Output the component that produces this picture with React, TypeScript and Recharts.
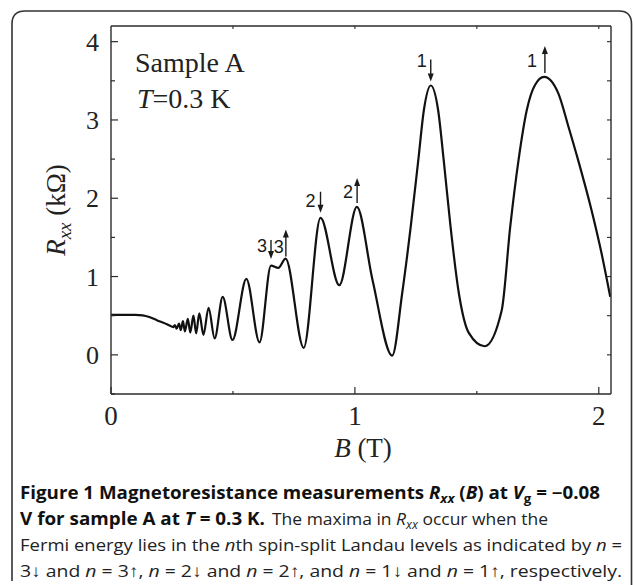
import React from 'react';
import { LineChart, Line, XAxis, YAxis, ReferenceDot } from 'recharts';

// Magnetic field B (T)
const bField = [
  0, 0.05, 0.1, 0.13, 0.16, 0.19, 0.215, 0.24, 0.255, 0.262, 0.269, 0.279, 0.286,
  0.295, 0.303, 0.315, 0.325, 0.338, 0.349, 0.362, 0.379, 0.4, 0.425, 0.458, 0.498,
  0.555, 0.609, 0.656, 0.686, 0.716, 0.79, 0.859, 0.936, 1.008, 1.072, 1.153, 1.194,
  1.229, 1.26, 1.283, 1.311, 1.341, 1.364, 1.392, 1.426, 1.467, 1.532, 1.602, 1.637,
  1.671, 1.705, 1.739, 1.776, 1.834, 1.875, 1.915, 1.97, 2.011, 2.047,
];
// Longitudinal resistance Rxx (kOhm)
const rxx = [
  0.51, 0.51, 0.51, 0.505, 0.48, 0.44, 0.41, 0.375, 0.355, 0.38, 0.335, 0.4, 0.315,
  0.43, 0.3, 0.46, 0.285, 0.5, 0.275, 0.53, 0.255, 0.6, 0.21, 0.74, 0.19,
  0.97, 0.16, 1.14, 1.11, 1.23, 0.09, 1.75, 0.89, 1.89, 0.96, -0.01, 0.79,
  1.64, 2.49, 3.13, 3.44, 3.13, 2.49, 1.64, 0.79, 0.28, 0.11, 0.57, 1.64,
  2.49, 3.13, 3.45, 3.55, 3.34, 2.92, 2.49, 1.85, 1.3, 0.74,
];

const xTicksBottom = [0, 0.5, 1, 1.5, 2];
const xTicksTop = [0.5, 1, 1.5, 2];
const yTicksLeft = [-0.5, 0, 0.5, 1, 1.5, 2, 2.5, 3, 3.5, 4];
const yTicksRight = [0, 0.5, 1, 1.5, 2, 2.5, 3, 3.5, 4];

// Landau level annotations: anchor point (B, Rxx) of arrow, level, spin direction
const annB = [0.656, 0.717, 0.859, 1.009, 1.311, 1.779];
const annR = [1.225, 1.255, 1.815, 1.94, 3.49, 3.6];
const annLevel = ['3', '3', '2', '2', '1', '1'];
const annDir = ['down', 'up', 'down', 'up', 'down', 'up'];

const data = bField.map((b, i) => ({ b, r: rxx[i] }));

const FRAME = '#2b2b2b';
const SERIF = '"Liberation Serif", "Times New Roman", serif';
const SANS = '"Liberation Sans", Arial, sans-serif';
const CAP = '"Open Sans", "Noto Sans", sans-serif';

// label placement (pixels) for each annotation
const annStyle = [
  { dx: -9, dy: -7, len: 19 },
  { dx: -7, dy: -4, len: 27 },
  { dx: -10, dy: -6, len: 21 },
  { dx: -9, dy: -5, len: 25 },
  { dx: -9, dy: -15, len: 22 },
  { dx: -13, dy: -6, len: 27 },
];

const BottomTick = (props: any) => {
  const { x, y, payload } = props;
  const v = payload.value;
  const major = Number.isInteger(v);
  return (
    <g>
      <line x1={x} x2={x} y1={y} y2={y - (major ? 7 : 3)} stroke={FRAME} strokeWidth={1.2} />
      {major && (
        <text x={x} y={y + 31} textAnchor="middle" fontFamily={SERIF} fontSize={27} fill="#222">
          {v}
        </text>
      )}
    </g>
  );
};

const TopTick = (props: any) => {
  const { x, y } = props;
  return <line x1={x} x2={x} y1={y} y2={y + 3} stroke={FRAME} strokeWidth={1.1} />;
};

const LeftTick = (props: any) => {
  const { x, y, payload } = props;
  const v = payload.value;
  const major = Number.isInteger(v);
  return (
    <g>
      <line x1={x} x2={x + (major ? 7 : 4)} y1={y} y2={y} stroke={FRAME} strokeWidth={1.2} />
      {major && (
        <text x={x - 12} y={y + 9} textAnchor="end" fontFamily={SERIF} fontSize={26} fill="#222">
          {v}
        </text>
      )}
    </g>
  );
};

const RightTick = (props: any) => {
  const { x, y } = props;
  return <line x1={x} x2={x - 4} y1={y} y2={y} stroke={FRAME} strokeWidth={1.1} />;
};

const makeArrow = (i: number) => (p: any) => {
  const { cx, cy } = p;
  const st = annStyle[i];
  const down = annDir[i] === 'down';
  const tipY = down ? cy : cy - st.len;
  const baseY = down ? cy - st.len : cy;
  const head = down
    ? `${cx - 3},${tipY - 8} ${cx + 3},${tipY - 8} ${cx},${tipY}`
    : `${cx - 3},${tipY + 8} ${cx + 3},${tipY + 8} ${cx},${tipY}`;
  return (
    <g>
      <line x1={cx} x2={cx} y1={baseY} y2={down ? tipY - 6 : tipY + 6} stroke="#1a1a1a" strokeWidth={1.4} />
      <polygon points={head} fill="#1a1a1a" />
      <text
        x={cx + st.dx}
        y={cy + st.dy}
        textAnchor="middle"
        fontFamily={SANS}
        fontSize={18}
        fill="#1a1a1a"
      >
        {annLevel[i]}
      </text>
    </g>
  );
};

export default function App() {
  return (
    <div style={{ position: 'absolute', left: 0, top: 0, width: 633, height: 585, background: '#fff' }}>
      <div style={{ position: 'absolute', left: 0, top: 0 }}>
        <LineChart width={633} height={585} data={data} margin={{ top: 25, right: 21, bottom: 190, left: 0 }}>
          <XAxis
            xAxisId="b"
            dataKey="b"
            type="number"
            domain={[0, 2.05]}
            allowDataOverflow
            ticks={xTicksBottom}
            interval={0}
            height={1}
            tickSize={0}
            tickMargin={0}
            tickLine={false}
            tick={BottomTick}
            axisLine={{ stroke: FRAME, strokeWidth: 1.4 }}
          />
          <XAxis
            xAxisId="t"
            orientation="top"
            dataKey="b"
            type="number"
            domain={[0, 2.05]}
            allowDataOverflow
            ticks={xTicksTop}
            interval={0}
            height={1}
            tickSize={0}
            tickMargin={0}
            tickLine={false}
            tick={TopTick}
            axisLine={{ stroke: FRAME, strokeWidth: 1.4 }}
          />
          <YAxis
            yAxisId="l"
            type="number"
            domain={[-0.5, 4.2]}
            allowDataOverflow
            ticks={yTicksLeft}
            interval={0}
            width={111}
            tickSize={0}
            tickMargin={0}
            tickLine={false}
            tick={LeftTick}
            axisLine={{ stroke: FRAME, strokeWidth: 1.4 }}
          />
          <YAxis
            yAxisId="r"
            orientation="right"
            type="number"
            domain={[-0.5, 4.2]}
            allowDataOverflow
            ticks={yTicksRight}
            interval={0}
            width={1}
            tickSize={0}
            tickMargin={0}
            tickLine={false}
            tick={RightTick}
            axisLine={{ stroke: FRAME, strokeWidth: 1.4 }}
          />
          <Line
            xAxisId="b"
            yAxisId="l"
            dataKey="r"
            type="monotone"
            stroke="#111"
            strokeWidth={2.2}
            dot={false}
            activeDot={false}
            isAnimationActive={false}
          />
          {annB.map((b, i) => (
            <ReferenceDot
              key={i}
              xAxisId="b"
              yAxisId="l"
              x={b}
              y={annR[i]}
              r={0}
              shape={makeArrow(i)}
            />
          ))}
        </LineChart>
      </div>
      <svg
        width={633}
        height={585}
        style={{ position: 'absolute', left: 0, top: 0, pointerEvents: 'none' }}
      >
        <path
          d="M12,581 L12,24 Q12,11 25,11 L619,11 Q631.5,11 631.5,24 L631.5,585"
          fill="none"
          stroke="#333"
          strokeWidth={1.6}
        />
        <text x={135} y={72} fontFamily={SERIF} fontSize={28} fill="#222">
          Sample A
        </text>
        <text x={137} y={108} fontFamily={SERIF} fontSize={28} fill="#222">
          <tspan fontStyle="italic">T</tspan>=0.3 K
        </text>
        <text transform="translate(65,210) rotate(-90)" textAnchor="middle" fontFamily={SERIF} fontSize={27} fill="#222">
          <tspan fontStyle="italic">R</tspan>
          <tspan fontStyle="italic" fontSize={19} dy={6}>xx</tspan>
          <tspan dy={-6}> (kΩ)</tspan>
        </text>
        <text x={363} y={457} textAnchor="middle" fontFamily={SERIF} fontSize={27} fill="#222">
          <tspan fontStyle="italic">B</tspan> (T)
        </text>
        <text x={20} y={499} fontFamily={CAP} fontSize={17} fontWeight="bold" fill="#111" textLength={580} lengthAdjust="spacingAndGlyphs">
          Figure 1 Magnetoresistance measurements <tspan fontStyle="italic">R</tspan>
          <tspan fontStyle="italic" fontSize={12} dy={4}>xx</tspan>
          <tspan dy={-4}> (</tspan>
          <tspan fontStyle="italic">B</tspan>) at <tspan fontStyle="italic">V</tspan>
          <tspan fontSize={12} dy={4}>g</tspan>
          <tspan dy={-4}> = −0.08</tspan>
        </text>
        <text x={20} y={525} fontFamily={CAP} fontSize={17} fontWeight="bold" fill="#111" textLength={245} lengthAdjust="spacingAndGlyphs">
          V for sample A at <tspan fontStyle="italic">T</tspan> = 0.3 K.
        </text>
        <text x={272} y={525} fontFamily={CAP} fontSize={17} fill="#222" textLength={276} lengthAdjust="spacingAndGlyphs">
          The maxima in <tspan fontStyle="italic">R</tspan>
          <tspan fontStyle="italic" fontSize={12} dy={4}>xx</tspan>
          <tspan dy={-4}> occur when the</tspan>
        </text>
        <text x={20} y={551} fontFamily={CAP} fontSize={17} fill="#222" textLength={602} lengthAdjust="spacingAndGlyphs">
          Fermi energy lies in the <tspan fontStyle="italic">n</tspan>th spin-split Landau levels as indicated by{' '}
          <tspan fontStyle="italic">n</tspan> =
        </text>
        <text x={20} y={577} fontFamily={CAP} fontSize={17} fill="#222" textLength={602} lengthAdjust="spacingAndGlyphs">
          3↓ and <tspan fontStyle="italic">n</tspan> = 3↑, <tspan fontStyle="italic">n</tspan> = 2↓ and{' '}
          <tspan fontStyle="italic">n</tspan> = 2↑, and <tspan fontStyle="italic">n</tspan> = 1↓ and{' '}
          <tspan fontStyle="italic">n</tspan> = 1↑, respectively.
        </text>
      </svg>
    </div>
  );
}
